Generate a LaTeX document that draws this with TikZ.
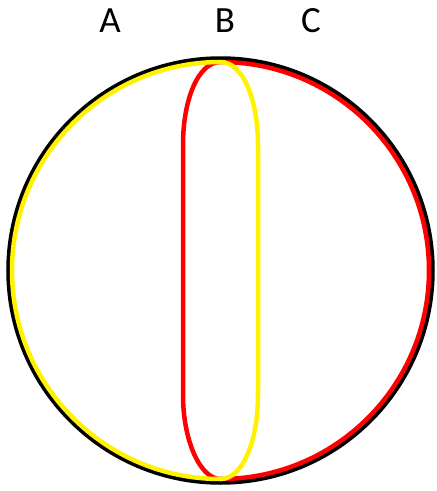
\documentclass[tikz,border=0pt]{standalone}
\usepackage{fontspec}
\setmainfont{Carlito}
\usetikzlibrary{positioning}

\begin{document}
\begin{tikzpicture}[
  x=1pt, y=-1pt,
  lbl/.style={font=\fontsize{37}{40}\selectfont, inner sep=0pt},
  ring/.style={draw=black, line width=4.5pt},
  lobe/.style={line width=4.5pt, line join=round}]
  \useasboundingbox (0,0) rectangle (437,491);
  \node[lbl] (a) at (110,21) {A};
  \node[lbl] (b) at (225,21) {B};
  \node[lbl] (c) at (311,21) {C};
  \draw[ring] (220.5,270.5) circle[radius=212];
  % right lobe
  \draw[lobe, red] (220.5,62) arc[start angle=-90, end angle=90, radius=208.5]
    .. controls (200,479) and (183,440) .. (183,395) -- (183,145)
    .. controls (183,100) and (198,62) .. cycle;
  % left lobe
  \draw[lobe, yellow] (220.5,62) arc[start angle=-90, end angle=-270, radius=208.5]
    .. controls (243,479) and (258,440) .. (258,395) -- (258,145)
    .. controls (258,100) and (243,62) .. cycle;
\end{tikzpicture}
\end{document}
